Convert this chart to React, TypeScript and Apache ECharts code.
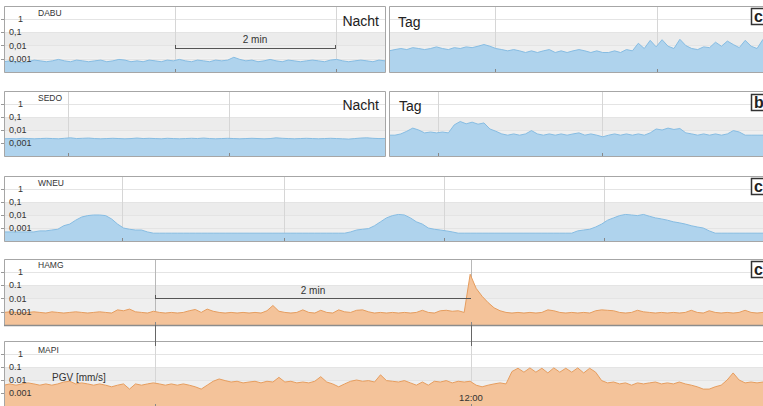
import React, { useEffect, useRef } from 'react';
import * as echarts from 'echarts';

// ---- text / tick labels ----
const ticksComma = ['1', '0,1', '0,01', '0,001'];
const ticksDot = ['1', '0.1', '0.01', '0.001'];
const stations = ['DABU', 'SEDO', 'WNEU', 'HAMG', 'MAPI'];
const periodLabels = ['Nacht', 'Tag'];
const scaleLabel = '2 min';
const timeLabel = '12:00';
const unitLabel = 'PGV [mm/s]';
const panelLetters = ['c', 'b', 'c', 'c'];

// ---- series values (PGV in mm/s) ----
const dabuNight = [
  0.0006, 0.0007, 0.0006, 0.0005, 0.0006, 0.0008, 0.0007, 0.0006,
  0.0007, 0.0009, 0.0007, 0.0006, 0.0008, 0.0007, 0.0006, 0.0007,
  0.0008, 0.0006, 0.0007, 0.0009, 0.0008, 0.0006, 0.0007, 0.0006,
  0.0008, 0.0007, 0.0006, 0.0008, 0.0007, 0.0009, 0.0007, 0.0006,
  0.0008, 0.0007, 0.0006, 0.0008, 0.0007, 0.0008, 0.0013, 0.0009,
  0.0007, 0.0008, 0.0006, 0.0007, 0.0009, 0.0007, 0.0006, 0.0008,
  0.0007, 0.0006, 0.0007, 0.0008, 0.0007, 0.0006, 0.0008, 0.0009,
  0.0007, 0.0006, 0.0007, 0.0008, 0.0007, 0.0006, 0.0008, 0.0007,
];
const dabuDay = [
  0.004, 0.005, 0.006, 0.005, 0.007, 0.006, 0.005, 0.006,
  0.008, 0.006, 0.005, 0.007, 0.006, 0.008, 0.007, 0.009,
  0.012, 0.009, 0.006, 0.005, 0.004, 0.005, 0.004, 0.003,
  0.004, 0.003, 0.004, 0.005, 0.003, 0.004, 0.003, 0.004,
  0.005, 0.004, 0.003, 0.004, 0.003, 0.003, 0.004, 0.003,
  0.005, 0.004, 0.015, 0.006, 0.025, 0.008, 0.028, 0.009,
  0.006, 0.03, 0.01, 0.006, 0.005, 0.008, 0.007, 0.018,
  0.009, 0.022, 0.012, 0.007, 0.025, 0.009, 0.006, 0.03,
];
const sedoNight = [
  0.0021, 0.0022, 0.0021, 0.0023, 0.0022, 0.0021, 0.0022, 0.0023,
  0.0022, 0.0021, 0.0023, 0.0025, 0.0022, 0.0023, 0.0024, 0.0022,
  0.0021, 0.0022, 0.0023, 0.0022, 0.0021, 0.0022, 0.0024, 0.0022,
  0.0023, 0.0022, 0.0021, 0.0023, 0.0022, 0.0021, 0.0022, 0.0023,
  0.0022, 0.0024, 0.0022, 0.0021, 0.0022, 0.0023, 0.0022, 0.0021,
  0.0022, 0.0023, 0.0022, 0.0021, 0.0022, 0.0025, 0.0023, 0.0022,
  0.0021, 0.0022, 0.0023, 0.0022, 0.0021, 0.0022, 0.0023, 0.0022,
  0.0021, 0.002, 0.0022, 0.0024, 0.0025, 0.0023, 0.0022, 0.0022,
];
const sedoDay = [
  0.004, 0.004, 0.005, 0.008, 0.014, 0.01, 0.006, 0.007,
  0.006, 0.007, 0.006, 0.025, 0.045, 0.03, 0.04, 0.028,
  0.035, 0.012, 0.008, 0.005, 0.004, 0.005, 0.004, 0.005,
  0.009, 0.005, 0.004, 0.005, 0.004, 0.005, 0.004, 0.005,
  0.006, 0.004, 0.005, 0.004, 0.003, 0.004, 0.005, 0.004,
  0.005, 0.004, 0.005, 0.004, 0.006, 0.012, 0.01, 0.014,
  0.011, 0.013, 0.006, 0.005, 0.004, 0.005, 0.004, 0.005,
  0.004, 0.005, 0.009, 0.007, 0.004, 0.004, 0.004, 0.004,
];
const wneu = [
  0.0005, 0.0005, 0.0005, 0.0005, 0.0005, 0.0005, 0.0006, 0.0006,
  0.0007, 0.0008, 0.0015, 0.002, 0.004, 0.007, 0.009, 0.01,
  0.01, 0.009, 0.005, 0.002, 0.001, 0.0008, 0.0007, 0.0007,
  0.0005, 0.0004, 0.0004, 0.0004, 0.0004, 0.0004, 0.0004, 0.0004,
  0.0004, 0.0004, 0.0004, 0.0004, 0.0004, 0.0004, 0.0004, 0.0004,
  0.0004, 0.0004, 0.0004, 0.0004, 0.0004, 0.0004, 0.0004, 0.0004,
  0.0004, 0.0004, 0.0004, 0.0004, 0.0004, 0.0004, 0.0004, 0.0004,
  0.0004, 0.0004, 0.0005, 0.0007, 0.0008, 0.0009, 0.0015, 0.003,
  0.006, 0.009, 0.011, 0.01, 0.006, 0.003, 0.002, 0.001,
  0.0008, 0.0007, 0.0006, 0.0005, 0.0004, 0.0004, 0.0004, 0.0004,
  0.0004, 0.0004, 0.0004, 0.0004, 0.0004, 0.0004, 0.0004, 0.0004,
  0.0004, 0.0004, 0.0004, 0.0004, 0.0004, 0.0004, 0.0004, 0.0004,
  0.0006, 0.0007, 0.0008, 0.0012, 0.002, 0.004, 0.006, 0.009,
  0.011, 0.01, 0.009, 0.011, 0.008, 0.006, 0.005, 0.004,
  0.003, 0.0025, 0.002, 0.0015, 0.0012, 0.001, 0.0006, 0.0004,
  0.0004, 0.0004, 0.0004, 0.0004, 0.0004, 0.0004, 0.0004, 0.0004,
];
const hamg = [
  0.0009, 0.001, 0.0009, 0.0008, 0.0009, 0.001, 0.0009, 0.0008,
  0.001, 0.0009, 0.0008, 0.0009, 0.001, 0.0009, 0.0008, 0.0009,
  0.001, 0.0009, 0.0008, 0.0014, 0.0012, 0.0016, 0.001, 0.0009,
  0.0008, 0.0011, 0.0009, 0.0008, 0.0009, 0.0008, 0.0009, 0.0012,
  0.0015, 0.0009, 0.0016, 0.0011, 0.0009, 0.0008, 0.0009, 0.0008,
  0.0009, 0.0008, 0.0009, 0.0008, 0.0012, 0.003, 0.0011, 0.0009,
  0.0008, 0.0009, 0.0014, 0.0009, 0.0008, 0.0013, 0.0009, 0.0008,
  0.0014, 0.001, 0.0009, 0.0013, 0.0014, 0.001, 0.0008, 0.0009,
  0.0008, 0.0009, 0.0008, 0.0009, 0.0008, 0.0009, 0.0013, 0.0009,
  0.0008, 0.0012, 0.0013, 0.0011, 0.0012, 0.0009, 0.7, 0.06,
  0.015, 0.005, 0.002, 0.0012, 0.0009, 0.0008, 0.0009, 0.0008,
  0.0009, 0.0008, 0.0009, 0.0014, 0.0012, 0.0009, 0.0008, 0.0009,
  0.0008, 0.0009, 0.0008, 0.0012, 0.0014, 0.0013, 0.0012, 0.0009,
  0.0008, 0.0009, 0.0013, 0.001, 0.0009, 0.0008, 0.0009, 0.0008,
  0.0009, 0.0008, 0.0009, 0.0013, 0.0009, 0.0008, 0.0012, 0.0009,
  0.0008, 0.0009, 0.0008, 0.0009, 0.0013, 0.0009, 0.0008, 0.0009,
];
const mapi = [
  0.004, 0.005, 0.004, 0.005, 0.006, 0.005, 0.004, 0.005,
  0.004, 0.005, 0.007, 0.008, 0.005, 0.006, 0.005, 0.004,
  0.005, 0.004, 0.003, 0.004, 0.005, 0.002, 0.005, 0.004,
  0.005, 0.006, 0.005, 0.004, 0.005, 0.004, 0.005, 0.004,
  0.003, 0.002, 0.004, 0.008, 0.012, 0.009, 0.007, 0.008,
  0.006, 0.007, 0.008, 0.006, 0.008, 0.007, 0.016, 0.007,
  0.008, 0.006, 0.007, 0.006, 0.008, 0.018, 0.007, 0.005,
  0.003, 0.005, 0.008, 0.01, 0.008, 0.009, 0.007, 0.025,
  0.009, 0.008, 0.007, 0.009, 0.006, 0.004, 0.007, 0.004,
  0.008, 0.007, 0.009, 0.006, 0.008, 0.007, 0.008, 0.004,
  0.003, 0.004, 0.005, 0.006, 0.005, 0.045, 0.08, 0.04,
  0.085, 0.04, 0.08, 0.035, 0.085, 0.04, 0.08, 0.04,
  0.085, 0.035, 0.08, 0.04, 0.009, 0.006, 0.007, 0.005,
  0.006, 0.004, 0.006, 0.005, 0.006, 0.007, 0.005, 0.006,
  0.005, 0.007, 0.005, 0.004, 0.003, 0.002, 0.002, 0.003,
  0.004, 0.01, 0.035, 0.01, 0.006, 0.007, 0.006, 0.007,
];

const FONT = '"Liberation Sans", Arial, Helvetica, sans-serif';
const BLUE_LINE = '#86bce2';
const BLUE_FILL = '#afd3ed';
const ORANGE_LINE = '#e69d5e';
const ORANGE_FILL = '#f4c39a';

type Panel = {
  left: number; top: number; width: number; height: number;
  data: number[]; line: string; fill: string; ticks: string[] | null; vlines: number[];
};

const panels: Panel[] = [
  { left: 4, top: 6, width: 381, height: 66, data: dabuNight, line: BLUE_LINE, fill: BLUE_FILL, ticks: ticksComma, vlines: [175, 336] },
  { left: 389, top: 6, width: 378, height: 66, data: dabuDay, line: BLUE_LINE, fill: BLUE_FILL, ticks: null, vlines: [495, 657] },
  { left: 4, top: 91, width: 381, height: 65, data: sedoNight, line: BLUE_LINE, fill: BLUE_FILL, ticks: ticksComma, vlines: [68, 229] },
  { left: 389, top: 91, width: 378, height: 65, data: sedoDay, line: BLUE_LINE, fill: BLUE_FILL, ticks: null, vlines: [438, 602] },
  { left: 4, top: 176, width: 763, height: 65, data: wneu, line: BLUE_LINE, fill: BLUE_FILL, ticks: ticksComma, vlines: [122, 284, 444, 604] },
  { left: 4, top: 259, width: 763, height: 66, data: hamg, line: ORANGE_LINE, fill: ORANGE_FILL, ticks: ticksDot, vlines: [155, 471] },
  { left: 4, top: 341, width: 763, height: 66, data: mapi, line: ORANGE_LINE, fill: ORANGE_FILL, ticks: ticksDot, vlines: [155, 471] },
];

const ln = (x1: number, y1: number, x2: number, y2: number, stroke: string, w = 1, z = 50) => ({
  type: 'line', silent: true, z, shape: { x1, y1, x2, y2 }, style: { stroke, lineWidth: w },
});
const tx = (x: number, y: number, t: string, size: number, align = 'left', weight = 'normal', fill = '#333') => ({
  type: 'text', silent: true, z: 60, x, y,
  style: { text: t, fontSize: size, fontFamily: FONT, fontWeight: weight, fill, align, verticalAlign: 'middle', textAlign: align, textVerticalAlign: 'middle' },
});
const box = (x: number, y: number, w: number, h: number, stroke: string, lw = 1, fill = 'none', z = 55) => ({
  type: 'rect', silent: true, z, shape: { x, y, width: w, height: h }, style: { fill, stroke, lineWidth: lw },
});

export default function App() {
  const ref = useRef<HTMLDivElement>(null);
  useEffect(() => {
    document.body.style.margin = '0';
    const chart = echarts.init(ref.current as HTMLDivElement, null, { renderer: 'svg' });

    const grids = panels.map((p) => ({ left: p.left, top: p.top, width: p.width, height: p.height, show: false }));
    const xAxes = panels.map((p, i) => ({
      type: 'category', gridIndex: i, show: false, boundaryGap: false, data: p.data.map((_, k) => k),
    }));
    const yAxes: any[] = [];
    panels.forEach((p, i) => {
      yAxes.push({
        type: 'log', logBase: 10, gridIndex: i, min: 0.0001, max: 10, z: 0, position: 'right',
        axisLine: { show: false }, axisTick: { show: false }, axisLabel: { show: false },
        splitLine: { show: true, lineStyle: { color: '#e4e4e4', width: 1 } },
        splitArea: { show: true, areaStyle: { color: ['#efefef', '#efefef', '#ececec', '#ffffff', '#ffffff'] } },
      });
      const t = p.ticks;
      yAxes.push({
        type: 'log', logBase: 10, gridIndex: i, min: 0.0001, max: 10, z: 5, position: 'left',
        axisLine: { show: false },
        splitLine: { show: false }, splitArea: { show: false },
        axisTick: { show: !!t, inside: false, length: 3, lineStyle: { color: '#999' } },
        axisLabel: {
          show: !!t, inside: true, margin: 5, fontSize: 9, fontFamily: FONT, color: '#333', align: 'left',
          showMinLabel: false, showMaxLabel: false,
          formatter: (v: number) => {
            if (!t) return '';
            const e = Math.round(Math.log10(v));
            if (e === 0) return '{one|' + t[0] + '}';
            if (e < 0 && e >= -3) return t[-e];
            return '';
          },
          rich: { one: { padding: [0, 0, 0, 9], fontSize: 9, fontFamily: FONT, color: '#333' } },
        },
      });
    });
    const series = panels.map((p, i) => ({
      type: 'line', xAxisIndex: i, yAxisIndex: i * 2, data: p.data, symbol: 'none', silent: true, z: 2,
      lineStyle: { color: p.line, width: 1 },
      areaStyle: { color: p.fill, opacity: 1, origin: 'start' },
    }));

    const g: any[] = [];
    panels.forEach((p) => {
      const bottom = p.top + p.height;
      p.vlines.forEach((x) => {
        g.push(ln(x + 0.5, p.top, x + 0.5, bottom, '#d6d6d6', 1, 1));
        g.push(ln(x + 0.5, bottom - 3, x + 0.5, bottom, '#888', 1, 50));
      });
      g.push(box(p.left + 0.5, p.top + 0.5, p.width, p.height, '#a6a6a6', 1));
    });
    // HAMG lower edge and connector lines to MAPI
    g.push(ln(4, 325.5, 767, 325.5, '#8c8c8c', 1.5, 56));
    g.push(ln(155.5, 325, 155.5, 346, '#666', 1, 56));
    g.push(ln(471.5, 325, 471.5, 346, '#666', 1, 56));
    g.push(ln(155.5, 259, 155.5, 325, '#b8b8b8', 1, 1));
    g.push(ln(471.5, 259, 471.5, 325, '#b8b8b8', 1, 1));

    // station labels
    const stY = [13, 98, 183, 265, 350];
    stations.forEach((s, i) => g.push(tx(38, stY[i], s, 8.5)));
    // Nacht / Tag
    g.push(tx(379, 21, periodLabels[0], 14, 'right', 'normal', '#222'));
    g.push(tx(398, 22, periodLabels[1], 14, 'left', 'normal', '#222'));
    g.push(tx(379, 105, periodLabels[0], 14, 'right', 'normal', '#222'));
    g.push(tx(399, 106, periodLabels[1], 14, 'left', 'normal', '#222'));
    // scale bars
    g.push(ln(175, 48.5, 336, 48.5, '#555', 1, 56));
    g.push(ln(175.5, 45, 175.5, 49, '#555', 1, 56));
    g.push(ln(335.5, 45, 335.5, 49, '#555', 1, 56));
    g.push(tx(255, 39, scaleLabel, 10, 'center'));
    g.push(ln(155, 298.5, 471, 298.5, '#555', 1, 56));
    g.push(ln(155.5, 295, 155.5, 299, '#555', 1, 56));
    g.push(tx(313, 290, scaleLabel, 10, 'center'));
    // unit and time label
    g.push(tx(52, 377, unitLabel, 10));
    g.push(tx(471, 397, timeLabel, 9.5, 'center'));
    // panel letter boxes (cut at the right edge)
    const lY = [8, 94, 178, 261];
    panelLetters.forEach((l, i) => {
      g.push(box(751.5, lY[i] + 0.5, 20, 16, '#333', 1.5, '#ffffff', 57));
      g.push(tx(754, lY[i] + 8.5, l, 16, 'left', 'bold', '#222'));
    });

    chart.setOption({
      animation: false,
      backgroundColor: '#ffffff',
      grid: grids,
      xAxis: xAxes,
      yAxis: yAxes,
      series,
      graphic: { elements: g },
    });
    return () => chart.dispose();
  }, []);
  return <div ref={ref} style={{ position: 'absolute', left: 0, top: 0, width: 763, height: 406, background: '#fff' }} />;
}
